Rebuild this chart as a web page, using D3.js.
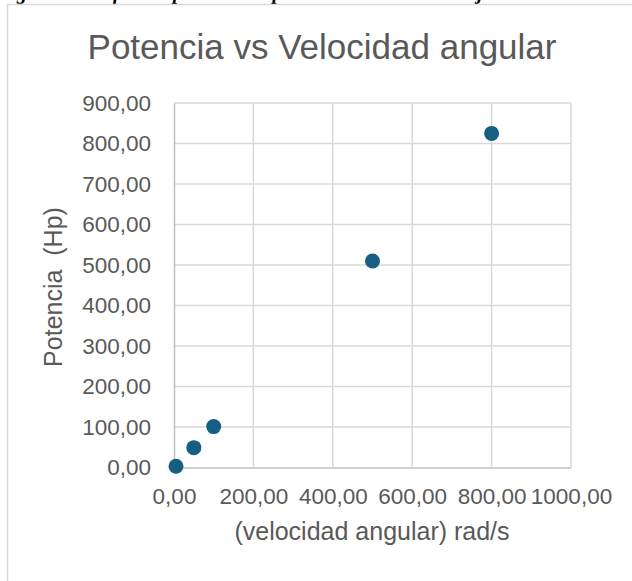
<!DOCTYPE html>
<html>
<head>
<meta charset="utf-8">
<script src="https://cdn.jsdelivr.net/npm/d3@7"></script>
<style>
  html, body { margin: 0; padding: 0; background: #fff; }
  svg { display: block; }
  .tick text { fill: #595959; font-family: "Liberation Sans", Arial, sans-serif; font-size: 22.5px; }
</style>
</head>
<body>
<div id="chart"></div>
<script>
// data
var velocidad = [5, 50, 100, 500, 800]
var potencia = [3, 49, 101, 510, 825]
var xTicks = [0, 200, 400, 600, 800, 1000]
var yTicks = [0, 100, 200, 300, 400, 500, 600, 700, 800, 900]

var width = 632, height = 581
var margin = {left: 174, right: 61, top: 103, bottom: 113.5}

var svg = d3.select("#chart").append("svg")
    .attr("width", width)
    .attr("height", height)

// caption of the document, cut off at the top
svg.append("text")
    .attr("x", -2)
    .attr("y", -1)
    .style("font-family", "Liberation Serif, serif")
    .style("font-style", "italic")
    .style("font-weight", "bold")
    .style("font-size", "20px")
    .text("Figura 6. Gráfica de potencia respecto a la velocidad del eje")

// chart frame
svg.append("path")
    .attr("d", "M7.5," + height + "V4.5H" + width)
    .attr("fill", "none")
    .attr("stroke", "#d9d9d9")
    .attr("stroke-width", 1.5)

var x = d3.scaleLinear().domain([0, 1000]).range([margin.left, width - margin.right])
var y = d3.scaleLinear().domain([0, 900]).range([height - margin.bottom, margin.top])

var fmt = function(d) { return d3.format(".2f")(d).replace(".", ",") }

// gridlines
svg.append("g").selectAll("line")
    .data(yTicks.slice(1))
  .enter().append("line")
    .attr("x1", x(0)).attr("x2", x(1000))
    .attr("y1", function(d) { return y(d) }).attr("y2", function(d) { return y(d) })
    .attr("stroke", "#d9d9d9").attr("stroke-width", 1.5)

svg.append("g").selectAll("line")
    .data(xTicks.slice(1))
  .enter().append("line")
    .attr("x1", function(d) { return x(d) }).attr("x2", function(d) { return x(d) })
    .attr("y1", y(0)).attr("y2", y(900))
    .attr("stroke", "#d9d9d9").attr("stroke-width", 1.5)

// axes
var xAxis = svg.append("g")
    .attr("transform", "translate(0," + y(0) + ")")
    .call(d3.axisBottom(x).tickValues(xTicks).tickFormat(fmt).tickSize(0).tickPadding(21))
xAxis.select(".domain").attr("stroke", "#bfbfbf").attr("stroke-width", 1.5)

var yAxis = svg.append("g")
    .attr("transform", "translate(" + x(0) + ",0)")
    .call(d3.axisLeft(y).tickValues(yTicks).tickFormat(fmt).tickSize(0).tickPadding(23))
yAxis.select(".domain").attr("stroke", "#bfbfbf").attr("stroke-width", 1.5)

// titles
svg.append("text")
    .attr("x", 322)
    .attr("y", 59)
    .attr("text-anchor", "middle")
    .style("font-family", "Liberation Sans, Arial, sans-serif")
    .style("font-size", "35px")
    .style("fill", "#595959")
    .text("Potencia vs Velocidad angular")

svg.append("text")
    .attr("x", 372)
    .attr("y", 540)
    .attr("text-anchor", "middle")
    .style("font-family", "Liberation Sans, Arial, sans-serif")
    .style("font-size", "25px")
    .style("fill", "#595959")
    .text("(velocidad angular) rad/s")

svg.append("text")
    .attr("transform", "translate(62,287)rotate(-90)")
    .attr("text-anchor", "middle")
    .style("font-family", "Liberation Sans, Arial, sans-serif")
    .style("font-size", "25px")
    .style("fill", "#595959")
    .style("white-space", "pre")
    .text("Potencia  (Hp)")

// points
svg.append("g").selectAll("circle")
    .data(velocidad)
  .enter().append("circle")
    .attr("cx", function(d) { return x(d) })
    .attr("cy", function(d, i) { return y(potencia[i]) })
    .attr("r", 7.5)
    .attr("fill", "#156082")
</script>
</body>
</html>
